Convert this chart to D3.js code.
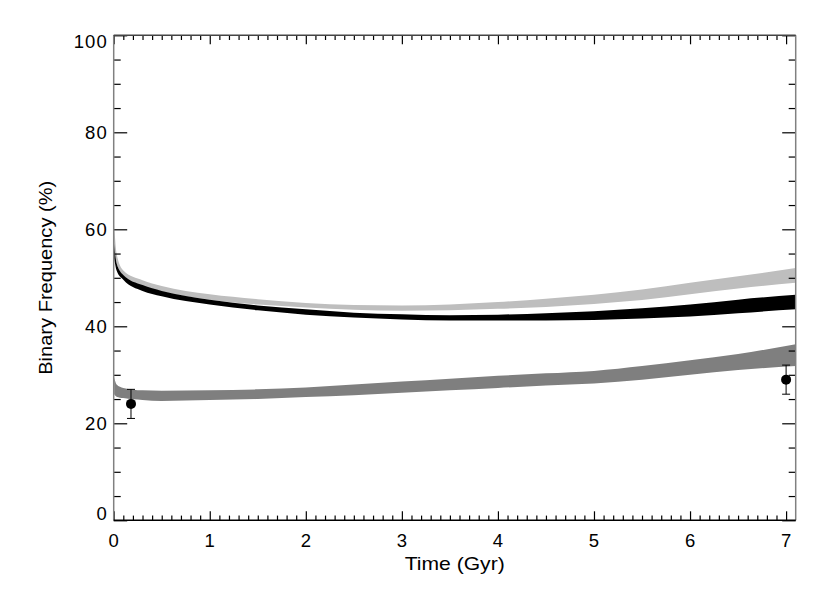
<!DOCTYPE html>
<meta charset="utf-8">
<style>
	body { margin: 0; background: #fff; }
	text { font-family: "Liberation Sans", Arial, sans-serif; fill: #000; }
</style>
<body>
<script src="https://cdn.jsdelivr.net/npm/d3@7"></script>
<script>
// model bands: time (Gyr) and upper / lower edge of each band (%)
var times   = [0.005, 0.03, 0.1, 0.3, 0.5, 1, 1.5, 2, 2.5, 3, 3.5, 4, 4.5, 5, 5.5, 6, 6.5, 7.1];
var lightHi = [61, 55, 51.5, 49.5, 48.3, 46.6, 45.6, 44.8, 44.4, 44.3, 44.5, 45.0, 45.7, 46.5, 47.6, 49.0, 50.3, 52.0];
var lightLo = [57, 53, 50.5, 48.3, 47.2, 45.5, 44.5, 43.9, 43.4, 43.2, 43.3, 43.6, 44.0, 44.6, 45.4, 46.6, 47.8, 49.0];
var blackHi = [57, 53, 50.6, 48.5, 47.3, 45.5, 44.3, 43.5, 42.8, 42.5, 42.3, 42.4, 42.7, 43.1, 43.7, 44.5, 45.5, 46.5];
var blackLo = [54, 51.5, 49.6, 47.3, 46.2, 44.5, 43.3, 42.4, 41.8, 41.4, 41.2, 41.2, 41.2, 41.3, 41.6, 42.0, 42.7, 43.5];
var grayHi  = [29.5, 28, 27.3, 26.8, 26.7, 26.8, 27.0, 27.4, 28.0, 28.6, 29.2, 29.8, 30.3, 30.8, 31.8, 33.0, 34.3, 36.3];
var grayLo  = [26, 25.5, 25.2, 24.8, 24.6, 24.8, 25.0, 25.4, 25.8, 26.3, 26.8, 27.3, 27.8, 28.2, 29.0, 30.0, 31.0, 31.8];

// observed points with errors
var obsT   = [0.18, 7.0];
var obsF   = [24, 29];
var obsErr = [3, 3];

var xTicks = [0, 1, 2, 3, 4, 5, 6, 7];
var yTicks = [0, 20, 40, 60, 80, 100];

(function(){
	var W = 830, H = 593,
		m = {left: 113.7, right: 34.3, top: 35.3, bottom: 72.7},
		w = W - m.left - m.right, h = H - m.top - m.bottom;

	var svg = d3.select("body").append("svg").attr("width", W).attr("height", H);
	var g = svg.append("g").attr("transform", "translate(" + m.left + "," + m.top + ")");

	var x = d3.scaleLinear().domain([0, 7.1]).range([0, w]),
		y = d3.scaleLinear().domain([0, 100]).range([h, 0]);

	g.append("clipPath").attr("id", "clip")
	 .append("rect").attr("width", w).attr("height", h);

	function band(hi, lo, color) {
		var rows = times.map(function(t, i){ return {t: t, hi: hi[i], lo: lo[i]}; });
		var area = d3.area()
			.curve(d3.curveMonotoneX)
			.x(function(d){ return x(d.t); })
			.y0(function(d){ return y(d.lo); })
			.y1(function(d){ return y(d.hi); });
		g.append("path").datum(rows)
		 .attr("clip-path", "url(#clip)")
		 .attr("fill", color)
		 .attr("d", area);
	}
	band(grayHi, grayLo, "#7f7f7f");
	band(lightHi, lightLo, "#bebebe");
	band(blackHi, blackLo, "#000");

	// error bars
	var obs = obsT.map(function(t, i){ return {t: t, f: obsF[i], e: obsErr[i]}; });
	var eb = g.selectAll(".obs").data(obs).enter().append("g").attr("class", "obs");
	eb.append("line")
	  .attr("x1", function(d){ return x(d.t); }).attr("x2", function(d){ return x(d.t); })
	  .attr("y1", function(d){ return y(d.f + d.e); }).attr("y2", function(d){ return y(d.f - d.e); })
	  .attr("stroke", "#000").attr("stroke-width", 1);
	[1, -1].forEach(function(s){
		eb.append("line")
		  .attr("x1", function(d){ return x(d.t) - 4; }).attr("x2", function(d){ return x(d.t) + 4; })
		  .attr("y1", function(d){ return y(d.f + s * d.e); }).attr("y2", function(d){ return y(d.f + s * d.e); })
		  .attr("stroke", "#000").attr("stroke-width", 1);
	});
	eb.append("circle")
	  .attr("cx", function(d){ return x(d.t); }).attr("cy", function(d){ return y(d.f); })
	  .attr("r", 5).attr("fill", "#000");

	// axes: IDL-style boxed frame with inward ticks
	var xMinor = d3.range(0, 71).map(function(i){ return i / 10; }).filter(function(v){ return xTicks.indexOf(v) < 0; });
	var yMinor = d3.range(0, 101, 5).filter(function(v){ return yTicks.indexOf(v) < 0; });

	var frame = g.append("g");
	// bottom
	var gb = frame.append("g").attr("transform", "translate(0," + h + ")");
	gb.append("g").call(d3.axisTop(x).tickValues(xMinor).tickSize(4.7).tickFormat(""));
	gb.append("g").call(d3.axisTop(x).tickValues(xTicks).tickSize(9).tickFormat(""));
	gb.append("g").attr("class", "lbl").call(d3.axisBottom(x).tickValues(xTicks).tickSize(0).tickPadding(14).tickFormat(d3.format("d")));
	// top
	var gt = frame.append("g");
	gt.append("g").call(d3.axisBottom(x).tickValues(xMinor).tickSize(4.7).tickFormat(""));
	gt.append("g").call(d3.axisBottom(x).tickValues(xTicks).tickSize(9).tickFormat(""));
	// left
	var gl = frame.append("g");
	gl.append("g").call(d3.axisRight(y).tickValues(yMinor).tickSize(7).tickFormat(""));
	gl.append("g").call(d3.axisRight(y).tickValues(yTicks).tickSize(13.5).tickFormat(""));
	var gll = gl.append("g").attr("class", "lbl").call(d3.axisLeft(y).tickValues(yTicks).tickSize(0).tickPadding(6).tickFormat(d3.format("d")));
	// right
	var gr = frame.append("g").attr("transform", "translate(" + w + ",0)");
	gr.append("g").call(d3.axisLeft(y).tickValues(yMinor).tickSize(7).tickFormat(""));
	gr.append("g").call(d3.axisLeft(y).tickValues(yTicks).tickSize(13.5).tickFormat(""));

	frame.selectAll(".domain").remove();
	frame.selectAll(".tick line").attr("stroke", "#000").attr("stroke-width", 1.2);
	frame.selectAll("text").attr("font-size", 18.5).attr("letter-spacing", "1px")
		.attr("font-family", "Liberation Sans, Arial, sans-serif").attr("fill", "#000");
	// end labels nudged inside, as in the original
	gll.selectAll(".tick text").attr("dy", function(d){ return d === 0 ? "-0.05em" : d === 100 ? "0.68em" : "0.32em"; });

	// frame lines
	frame.append("line").attr("x1", 0).attr("x2", 0).attr("y1", 0).attr("y2", h).attr("stroke", "#808080").attr("stroke-width", 1.5);
	frame.append("line").attr("x1", w).attr("x2", w).attr("y1", 0).attr("y2", h).attr("stroke", "#808080").attr("stroke-width", 1.5);
	frame.append("line").attr("x1", 0).attr("x2", w).attr("y1", h).attr("y2", h).attr("stroke", "#000").attr("stroke-width", 1.5);
	frame.append("line").attr("x1", 0).attr("x2", w).attr("y1", 0).attr("y2", 0).attr("stroke", "#444").attr("stroke-width", 1.5);

	// axis titles
	svg.append("text").attr("x", m.left + w / 2).attr("y", 570)
	   .attr("text-anchor", "middle").attr("font-size", 18.5)
	   .attr("textLength", 100).attr("lengthAdjust", "spacingAndGlyphs").text("Time (Gyr)");
	svg.append("text").attr("transform", "translate(52," + (m.top + h / 2) + ") rotate(-90)")
	   .attr("text-anchor", "middle").attr("font-size", 18.5)
	   .attr("textLength", 194).attr("lengthAdjust", "spacingAndGlyphs").text("Binary Frequency (%)");
})();
</script>
